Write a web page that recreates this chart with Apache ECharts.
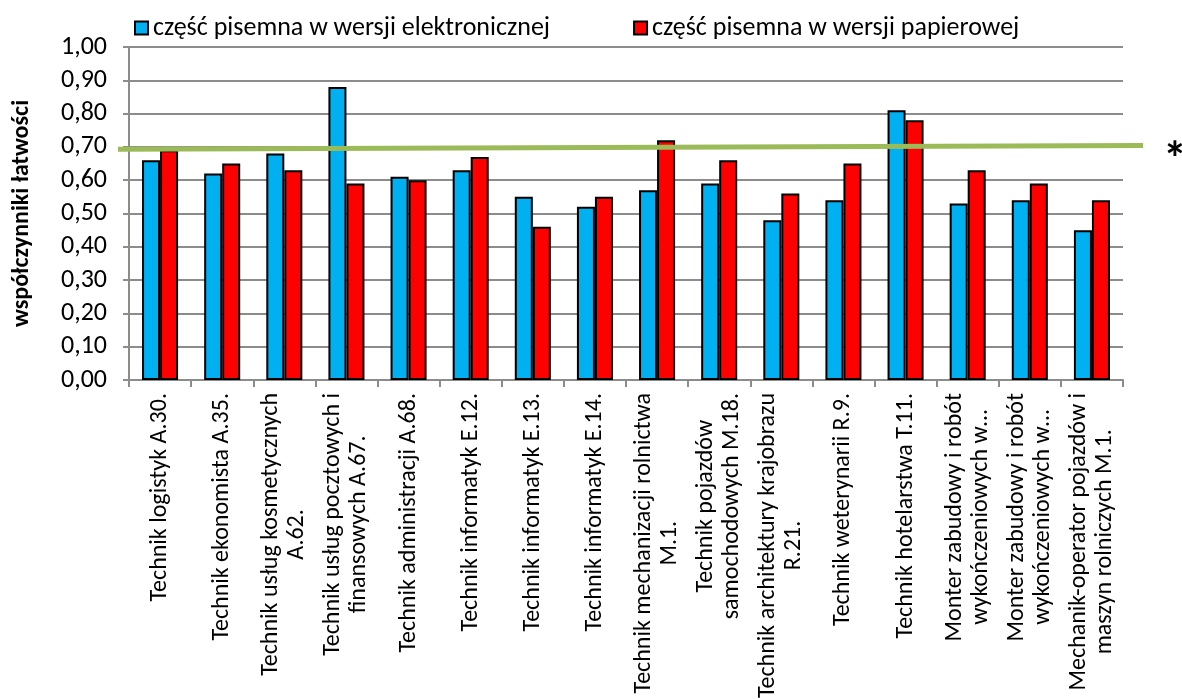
<!DOCTYPE html>
<html>
<head>
<meta charset="utf-8">
<script src="https://cdn.jsdelivr.net/npm/echarts@6/dist/echarts.min.js"></script>
<style>
  html, body { margin: 0; padding: 0; background: #fff; }
  #chart { width: 1182px; height: 699px; }
</style>
</head>
<body>
<div id="chart"></div>
<script>
// data
const categories = [
  "Technik logistyk A.30.",
  "Technik ekonomista A.35.",
  "Technik usług kosmetycznych\nA.62.",
  "Technik usług pocztowych i\nfinansowych A.67.",
  "Technik administracji A.68.",
  "Technik informatyk E.12.",
  "Technik informatyk E.13.",
  "Technik informatyk E.14.",
  "Technik mechanizacji rolnictwa\nM.1.",
  "Technik pojazdów\nsamochodowych M.18.",
  "Technik architektury krajobrazu\nR.21.",
  "Technik weterynarii R.9.",
  "Technik hotelarstwa T.11.",
  "Monter zabudowy i robót\nwykończeniowych w…",
  "Monter zabudowy i robót\nwykończeniowych w…",
  "Mechanik-operator pojazdów i\nmaszyn rolniczych M.1."
];
const electronic = [0.66, 0.62, 0.68, 0.88, 0.61, 0.63, 0.55, 0.52, 0.57, 0.59, 0.48, 0.54, 0.81, 0.53, 0.54, 0.45];
const paper      = [0.69, 0.65, 0.63, 0.59, 0.60, 0.67, 0.46, 0.55, 0.72, 0.66, 0.56, 0.65, 0.78, 0.63, 0.59, 0.54];
const seriesNames = ["część pisemna w wersji elektronicznej", "część pisemna w wersji papierowej"];
// hand-drawn green reference line (start / end level)
const refLine = [[0, 0.693], [1, 0.704]];

const FONT = "Carlito, Lato, sans-serif";
const chart = echarts.init(document.getElementById("chart"));

chart.setOption({
  animation: false,
  title: {
    text: "*",
    left: 1158,
    top: 134,
    textStyle: { fontFamily: FONT, fontSize: 48, fontWeight: "bold", color: "#000" }
  },
  legend: {
    left: 129,
    top: 10,
    itemWidth: 13,
    itemHeight: 13,
    itemGap: 83,
    icon: "rect",
    data: seriesNames,
    textStyle: { fontFamily: FONT, fontSize: 26, color: "#000" }
  },
  grid: [
    { left: 129, right: 59, top: 47, bottom: 319, containLabel: false, outerBoundsMode: "none" },
    { left: 118, right: 39, top: 47, bottom: 319, containLabel: false, outerBoundsMode: "none" }
  ],
  xAxis: [
    {
      type: "category",
      gridIndex: 0,
      data: categories,
      axisLine: { lineStyle: { color: "#8c8c8c", width: 2 } },
      axisTick: { show: true, length: 7, lineStyle: { color: "#8c8c8c", width: 2 } },
      axisLabel: {
        interval: 0,
        rotate: 90,
        margin: 13,
        color: "#000",
        fontFamily: FONT,
        fontSize: 24,
        lineHeight: 26,
        formatter: function (v) {
          return v.split("\n").map(s => "{c|" + s + "}").join("\n");
        },
        rich: {
          c: { align: "center", fontFamily: FONT, fontSize: 24, lineHeight: 26, color: "#000" }
        }
      }
    },
    { type: "value", gridIndex: 1, min: 0, max: 1, show: false }
  ],
  yAxis: [
    {
      type: "value",
      gridIndex: 0,
      min: 0,
      max: 1,
      interval: 0.1,
      name: "współczynniki łatwości",
      nameLocation: "middle",
      nameRotate: 90,
      nameGap: 95,
      nameTextStyle: { fontFamily: FONT, fontSize: 24, fontWeight: "bold", color: "#000" },
      axisLine: { show: true, lineStyle: { color: "#8c8c8c", width: 2 } },
      axisTick: { show: true, length: 6, lineStyle: { color: "#8c8c8c", width: 2 } },
      splitLine: { show: true, lineStyle: { color: "#8c8c8c", width: 2 } },
      axisLabel: {
        margin: 22,
        color: "#000",
        fontFamily: FONT,
        fontSize: 26,
        formatter: v => v.toFixed(2).replace(".", ",")
      }
    },
    { type: "value", gridIndex: 1, min: 0, max: 1, show: false }
  ],
  series: [
    {
      name: seriesNames[0],
      type: "bar",
      data: electronic,
      barGap: "0%",
      barCategoryGap: "42%",
      itemStyle: { color: "#00B0F0", borderColor: "#000", borderWidth: 2 }
    },
    {
      name: seriesNames[1],
      type: "bar",
      data: paper,
      barGap: "0%",
      barCategoryGap: "42%",
      itemStyle: { color: "#FF0000", borderColor: "#000", borderWidth: 2 }
    },
    {
      type: "line",
      xAxisIndex: 1,
      yAxisIndex: 1,
      data: refLine,
      symbol: "none",
      silent: true,
      z: 5,
      lineStyle: { color: "#9BBB59", width: 5 }
    }
  ]
});
</script>
</body>
</html>
